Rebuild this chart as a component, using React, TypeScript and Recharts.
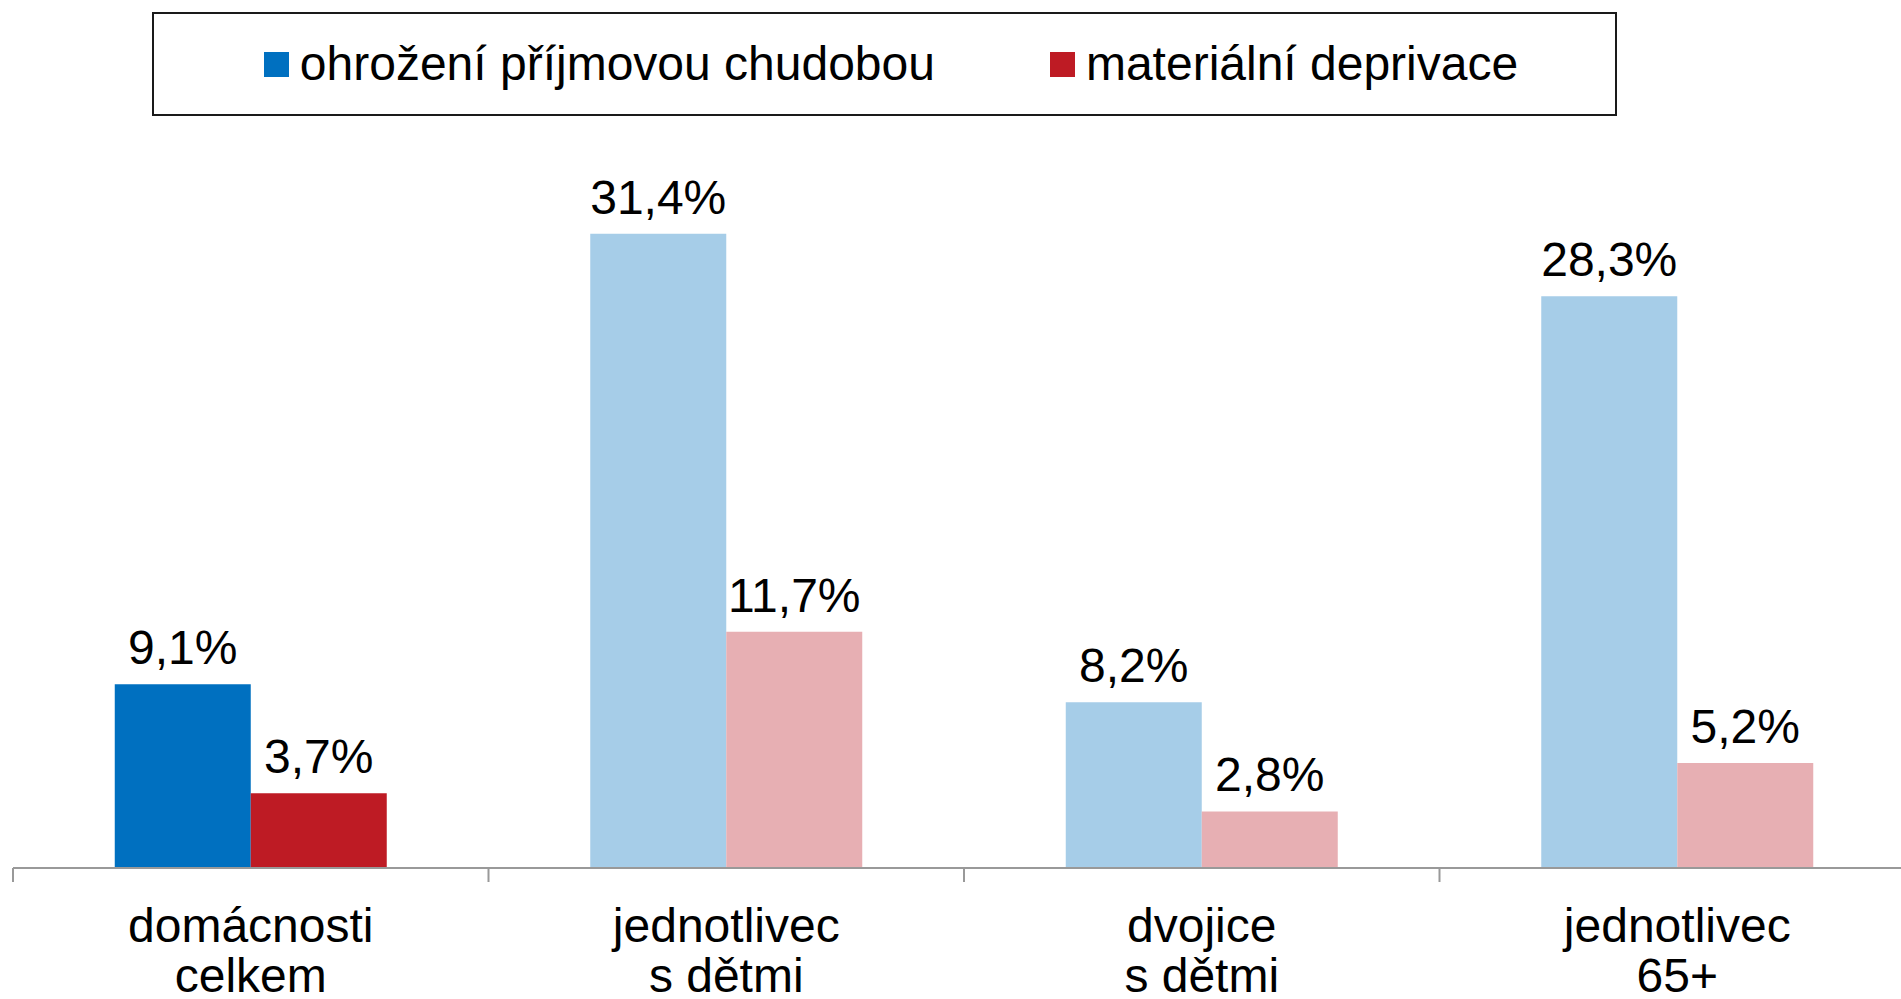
import React from 'react';
import { BarChart, Bar, XAxis, YAxis, Cell, LabelList } from 'recharts';

// ---- data ----
const categories = ['domácnosti\ncelkem', 'jednotlivec\ns dětmi', 'dvojice\ns dětmi', 'jednotlivec\n65+'];
const povertyRisk = [9.1, 31.4, 8.2, 28.3];
const deprivation = [3.7, 11.7, 2.8, 5.2];
const seriesNames = ['ohrožení příjmovou chudobou', 'materiální deprivace'];

// ---- styles ----
const FONT = '"Liberation Sans", Arial, Helvetica, sans-serif';
const riskColors = ['#0070C0', '#A6CDE8', '#A6CDE8', '#A6CDE8'];
const depColors = ['#BE1B24', '#E7AFB3', '#E7AFB3', '#E7AFB3'];
const legendColors = ['#0070C0', '#BE1B24'];
const AXIS_GRAY = '#999999';

const data = categories.map((c, i) => ({ cat: c, risk: povertyRisk[i], dep: deprivation[i] }));

const fmt = (v: any) => `${Number(v).toFixed(1).replace('.', ',')}%`;

const CategoryTick = (props: any) => {
  const { x, y, payload } = props;
  const half = payload && typeof payload.offset === 'number' && payload.offset > 0 ? payload.offset : 237.6;
  const lines = String(payload.value).split('\n');
  return (
    <g>
      <line x1={x - half} x2={x - half} y1={y} y2={y + 14} stroke={AXIS_GRAY} strokeWidth={2} />
      <text textAnchor="middle" fontSize={48} fill="#000" fontFamily={FONT}>
        {lines.map((l, i) => (
          <tspan key={i} x={x} y={y + 74 + i * 50}>
            {l}
          </tspan>
        ))}
      </text>
    </g>
  );
};

const Legend = () => (
  <div
    style={{
      position: 'absolute',
      left: 152,
      top: 12,
      width: 1465,
      height: 104,
      boxSizing: 'border-box',
      border: '2px solid #1a1a1a',
      display: 'flex',
      alignItems: 'center',
      justifyContent: 'center',
      gap: 115,
      fontFamily: FONT,
      fontSize: 48,
      color: '#000',
      paddingLeft: 13,
    }}
  >
    {seriesNames.map((n, i) => (
      <div key={n} style={{ display: 'flex', alignItems: 'center', gap: 11 }}>
        <div style={{ width: 25, height: 25, background: legendColors[i] }} />
        <span style={{ lineHeight: 1 }}>{n}</span>
      </div>
    ))}
  </div>
);

export default function App() {
  return (
    <div
      style={{
        position: 'absolute',
        left: 0,
        top: 0,
        width: 1901,
        height: 999,
        overflow: 'hidden',
        background: '#fff',
      }}
    >
      <BarChart
        width={1915}
        height={999}
        data={data}
        margin={{ top: 161, right: 0, left: 13, bottom: 0 }}
        barCategoryGap="21.4%"
        barGap={0}
      >
        <YAxis hide domain={[0, 35]} />
        <XAxis
          dataKey="cat"
          height={131}
          tickSize={0}
          tickMargin={0}
          tickLine={false}
          axisLine={{ stroke: AXIS_GRAY, strokeWidth: 2 }}
          tick={<CategoryTick />}
          interval={0}
        />
        <Bar dataKey="risk" isAnimationActive={false}>
          {data.map((_, i) => (
            <Cell key={i} fill={riskColors[i]} />
          ))}
          <LabelList dataKey="risk" position="top" offset={20} formatter={fmt} fill="#000" fontSize={48} fontFamily={FONT} />
        </Bar>
        <Bar dataKey="dep" isAnimationActive={false}>
          {data.map((_, i) => (
            <Cell key={i} fill={depColors[i]} />
          ))}
          <LabelList dataKey="dep" position="top" offset={20} formatter={fmt} fill="#000" fontSize={48} fontFamily={FONT} />
        </Bar>
      </BarChart>
      <Legend />
    </div>
  );
}
